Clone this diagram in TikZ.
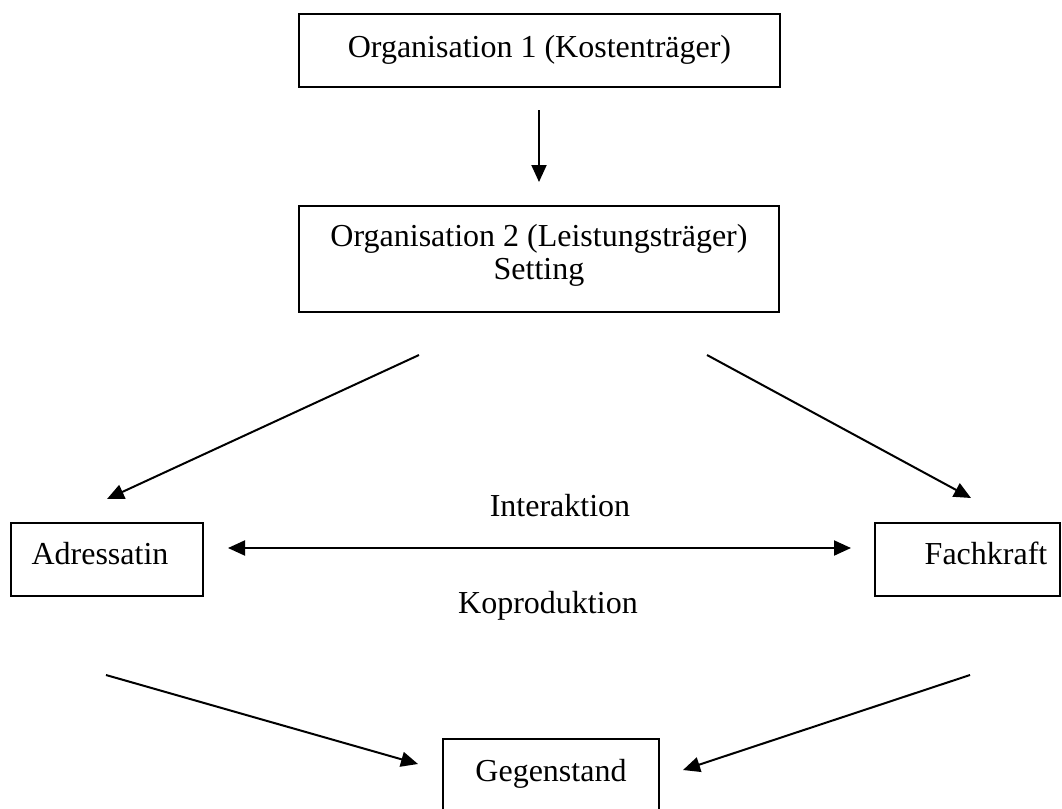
\documentclass[tikz,border=0pt]{standalone}
\usepackage{fontspec}
\setmainfont{Liberation Serif}
\usetikzlibrary{arrows.meta}
\begin{document}
\begin{tikzpicture}[x=1pt,y=-1pt,
  box/.style={draw, line width=2pt, inner sep=0pt},
  txt/.style={inner sep=0pt, anchor=base, font=\fontsize{32}{36}\selectfont},
  arr/.style={line width=2pt, -{Triangle[length=17pt,width=15pt]}},
  darr/.style={line width=2pt, {Triangle[length=17pt,width=15pt]}-{Triangle[length=17pt,width=15pt]}}]
\useasboundingbox (0,0) rectangle (1062,808);
% boxes
\node[box, minimum width=481pt, minimum height=73pt] (org1) at (539.5,50.5) {};
\node[box, minimum width=480pt, minimum height=106pt] (org2) at (539,259) {};
\node[box, minimum width=192pt, minimum height=73pt] (adr) at (107,559.5) {};
\node[box, minimum width=185pt, minimum height=73pt] (fach) at (967.5,559.5) {};
\node[box, minimum width=216pt, minimum height=74pt] (geg) at (551,776) {};
% texts
\node[txt] (t1) at (539.5,57) {Organisation 1 (Kostenträger)};
\node[txt] (t2a) at (539,246) {Organisation 2 (Leistungsträger)};
\node[txt] (t2b) at (539,279) {Setting};
\node[txt] (tadr) at (100,564) {Adressatin};
\node[txt] (tfach) at (986,564) {Fachkraft};
\node[txt] (tgeg) at (551,781) {Gegenstand};
\node[txt] (tint) at (560,516) {Interaktion};
\node[txt] (tkop) at (548,613) {Koproduktion};
% connector end points
\coordinate (a1s) at (539,110);
\coordinate (a1e) at (539,182);
\coordinate (a2s) at (419,355);
\coordinate (a2e) at (107,499);
\coordinate (a3s) at (707,355);
\coordinate (a3e) at (971,498);
\coordinate (a4s) at (228,548);
\coordinate (a4e) at (851,548);
\coordinate (a5s) at (106,675);
\coordinate (a5e) at (418,764);
\coordinate (a6s) at (970,675);
\coordinate (a6e) at (683,770);
% connectors
\draw[arr] (a1s) -- (a1e);
\draw[arr] (a2s) -- (a2e);
\draw[arr] (a3s) -- (a3e);
\draw[darr] (a4s) -- (a4e);
\draw[arr] (a5s) -- (a5e);
\draw[arr] (a6s) -- (a6e);
\end{tikzpicture}
\end{document}
